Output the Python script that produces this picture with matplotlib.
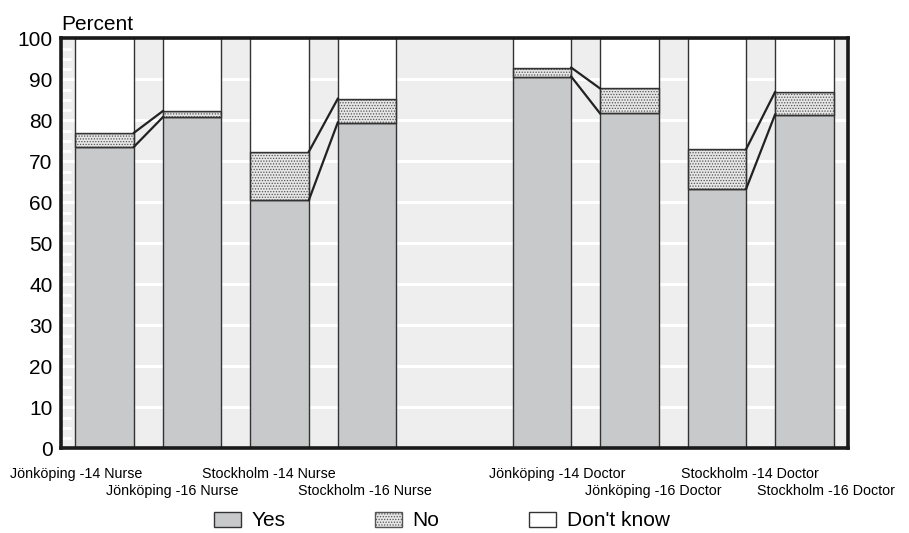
import numpy as np
import matplotlib.pyplot as plt
from matplotlib.patches import Patch

plt.rcParams["font.family"] = ["Liberation Sans", "DejaVu Sans"]
plt.rcParams["hatch.linewidth"] = 0.6

groups = ["Jönköping -14 Nurse", "Jönköping -16 Nurse", "Stockholm -14 Nurse", "Stockholm -16 Nurse",
          "Jönköping -14 Doctor", "Jönköping -16 Doctor", "Stockholm -14 Doctor", "Stockholm -16 Doctor"]
yes = [73.6, 80.8, 60.6, 79.5, 90.7, 81.7, 63.3, 81.4]
no = [3.4, 1.5, 11.8, 5.8, 2.2, 6.1, 9.7, 5.5]
dont_know = [100 - a - b for a, b in zip(yes, no)]
yticks = list(range(0, 101, 10))

W, H = 909, 533
fig = plt.figure(figsize=(W / 100, H / 100), dpi=100)
ax = fig.add_axes([61 / W, 1 - 448.3 / H, 787 / W, 409.8 / H])
ax.set_facecolor("#eeeeee")

# bars, leaving an empty slot between nurses and doctors
x = np.array([i + (1 if i >= 4 else 0) for i in range(len(groups))])
bw = 0.67
yes = np.array(yes)
no = np.array(no)
dk = np.array(dont_know)
edge = "#333333"
ax.bar(x, yes, bw, color="#c8c9cb", edgecolor=edge, linewidth=1, zorder=3)
ax.bar(x, no, bw, bottom=yes, color="#e6e6e6", edgecolor="#555555", hatch="......", linewidth=1, zorder=3)
ax.bar(x, no, bw, bottom=yes, fill=False, edgecolor=edge, linewidth=1, zorder=3)
ax.bar(x, dk, bw, bottom=yes + no, color="white", edgecolor=edge, linewidth=1, zorder=3)

# connector lines between -14 and -16 bars
for i in range(0, len(groups), 2):
    for top in (yes, yes + no):
        ax.plot([x[i] + bw / 2, x[i + 1] - bw / 2], [top[i], top[i + 1]],
                color="#222222", lw=1.6, zorder=4)

ax.set_xlim(-0.5, 8.5)
ax.set_ylim(0, 100)
ax.set_yticks(yticks)
ax.set_yticks(np.arange(0, 100.1, 2.5), minor=True)
ax.tick_params(axis="y", which="both", direction="in", color="white", width=2,
               labelsize=15, pad=6)
ax.tick_params(axis="y", which="major", length=8)
ax.tick_params(axis="y", which="minor", length=7)
ax.set_xticks([])
ax.yaxis.grid(True, color="white", lw=2.2, zorder=1)
ax.set_axisbelow(True)
for s in ax.spines.values():
    s.set_linewidth(2.6)
    s.set_color("#1a1a1a")
    s.set_zorder(5)

fig.text(61 / W, 1 - 30 / H, "Percent", fontsize=15, ha="left", va="baseline")

# staggered category labels
renderer = fig.canvas.get_renderer()
for i, g in enumerate(groups):
    slot = x[i]
    cx = 76 + 96.3 * slot
    by = 478 if i % 2 == 0 else 495
    t = fig.text(cx / W, 1 - by / H, g, fontsize=10.3, ha="center", va="baseline")
    bb = t.get_window_extent(renderer)
    if bb.x1 > W - 14:
        t.set_x((cx - (bb.x1 - (W - 14))) / W)

handles = [Patch(facecolor="#c8c9cb", edgecolor=edge, label="Yes"),
           Patch(facecolor="#e6e6e6", edgecolor="#555555", hatch="......", label="No"),
           Patch(facecolor="white", edgecolor=edge, label="Don't know")]
fig.legend(handles=handles, loc="center", bbox_to_anchor=(0.486, 1 - 521 / H), ncol=3,
           frameon=False, fontsize=15, handlelength=1.3, handleheight=0.75,
           handletextpad=0.5, columnspacing=4.3)

fig.savefig("out.png", dpi=100)
